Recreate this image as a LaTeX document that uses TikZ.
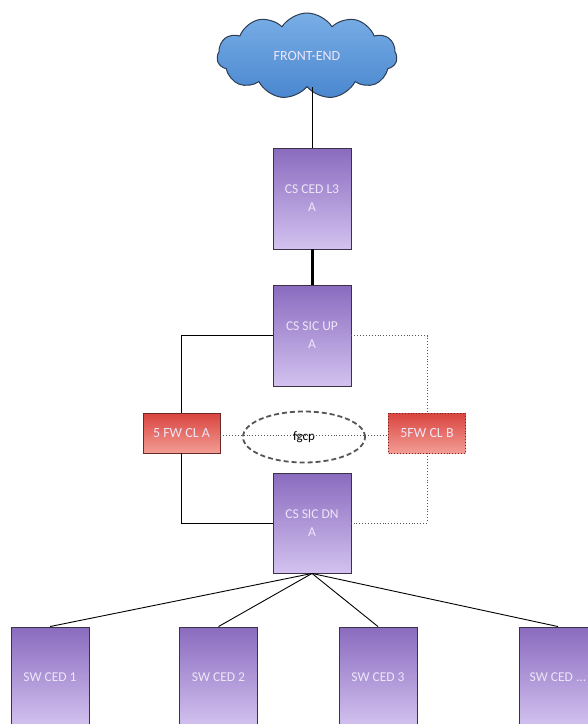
\documentclass[tikz,border=0pt]{standalone}
\usepackage{fontspec}
\setmainfont{Carlito}
\usetikzlibrary{shapes.symbols,shapes.geometric}

\definecolor{devtop}{HTML}{8A6BBF}
\definecolor{devbot}{HTML}{D3C2EF}
\definecolor{devedge}{HTML}{3B3248}
\definecolor{devtext}{HTML}{EEE6F8}
\definecolor{fwtop}{HTML}{D9443E}
\definecolor{fwbot}{HTML}{F39D95}
\definecolor{fwedge}{HTML}{6A2A28}
\definecolor{cloudtop}{HTML}{79AEE6}
\definecolor{cloudbot}{HTML}{4A87CF}
\definecolor{cloudedge}{HTML}{2C3C52}
\definecolor{linkgray}{HTML}{555555}

\begin{document}
\begin{tikzpicture}[x=1pt,y=-1pt,
  device/.style={draw=devedge, line width=0.9pt, top color=devtop, bottom color=devbot,
    minimum width=78pt, minimum height=101pt, inner sep=0pt, align=center,
    text=devtext, font=\fontsize{13.5}{18}\selectfont},
  fwbox/.style={draw=fwedge, line width=0.9pt, top color=fwtop, bottom color=fwbot,
    minimum width=77pt, minimum height=40pt, inner sep=0pt, align=center,
    text=devtext, font=\fontsize{14}{17}\selectfont},
  link/.style={draw=black, line width=0.9pt},
  backup/.style={draw=linkgray, line width=0.9pt, dotted},
  trunk/.style={draw=black, line width=3pt},
  sync/.style={draw=linkgray, line width=1.8pt, dashed, dash pattern=on 5pt off 3pt}
]
\useasboundingbox (0,0) rectangle (588,724);
\clip (0,0) rectangle (588,724);

% front-end cloud
\node[cloud, cloud puffs=11, cloud puff arc=115, aspect=2.1,
  minimum width=180pt, minimum height=86pt, inner sep=0pt,
  draw=cloudedge, line width=1pt, top color=cloudtop, bottom color=cloudbot,
  text=devtext, font=\fontsize{14}{17}\selectfont] (cloud) at (307,56) {FRONT-END};

% core devices
\node[device] (l3) at (312,198.5) {CS CED L3\\A};
\node[device] (up) at (312,335.5) {CS SIC UP\\A};
\node[device, minimum height=100pt] (dn) at (312,523) {CS SIC DN\\A};

% firewall cluster
\node[fwbox] (fwa) at (181.5,433) {5 FW CL A};
\node[fwbox, dotted] (fwb) at (427,433) {5FW CL B};
\node[ellipse, minimum width=122pt, minimum height=51pt, inner sep=0pt,
  font=\fontsize{13}{15}\selectfont] (fgcp) at (304,437) {fgcp};

% access switches
\node[device, minimum height=100pt] (sw1) at (50,677) {SW CED 1};
\node[device, minimum height=100pt] (sw2) at (218.5,677) {SW CED 2};
\node[device, minimum height=100pt] (sw3) at (378,677) {SW CED 3};
\node[device, minimum height=100pt] (sw4) at (558,677) {SW CED ...};

% links
\draw[link] (l3.north) -- (l3.north |- cloud.south);
\draw[trunk] (l3.south) -- (up.north);
\draw[link] (up.west) -| (fwa.north);
\draw[link] (fwa.south) |- (dn.west);
\draw[backup] (up.east) -| (fwb.north);
\draw[backup] (fwb.south) |- (dn.east);
\draw[backup] ([yshift=-2pt]fwa.east) -- ([yshift=-2pt]fwb.west);
\draw[sync] (fgcp.center) ellipse [x radius=61pt, y radius=25.5pt];
\foreach \s in {sw1,sw2,sw3,sw4}
  \draw[link] (dn.south) -- (\s.north);
\end{tikzpicture}
\end{document}
